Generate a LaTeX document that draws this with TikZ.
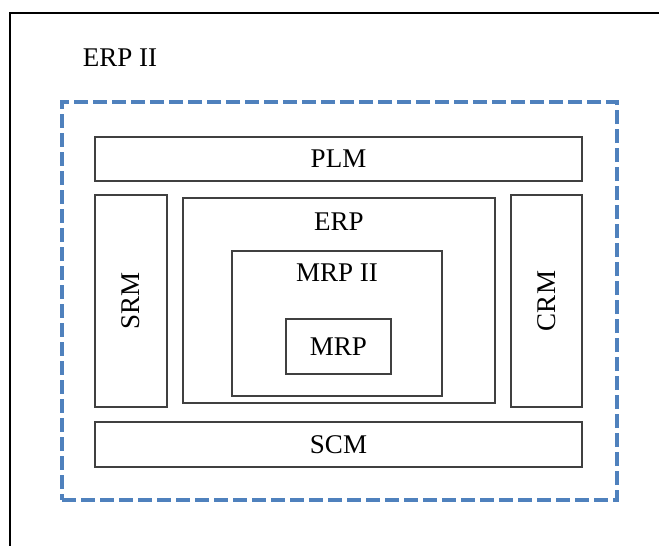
\documentclass[tikz,border=0pt]{standalone}
\usepackage{fontspec}
\setmainfont{Liberation Serif}
\usepackage{tikz}
\usetikzlibrary{positioning}
\definecolor{erpblue}{HTML}{4F81BD}
\definecolor{boxgray}{HTML}{404040}

\begin{document}
\begin{tikzpicture}[
x=1pt, y=-1pt,
every node/.style={font=\fontsize{27}{31}\selectfont},
modbox/.style={rectangle, draw=boxgray, line width=1.3pt, inner sep=0pt},
dashbox/.style={rectangle, draw=erpblue, line width=4.5pt, dash pattern=on 14pt off 5pt, inner sep=0pt},
]
\useasboundingbox (0,0) rectangle (659,546);

%Frame
\draw[line width=2.5pt] (10,546) -- (10,13) -- (659,13);

%Nodes
\node (erptwo) at (120,58) {ERP II};
\node[dashbox, minimum width=555pt, minimum height=398pt] (ext) at (339.5,301) {};
\node[modbox, minimum width=487pt, minimum height=44pt]  (plm) at (338.5,159)   {PLM};
\node[modbox, minimum width=487pt, minimum height=45pt]  (scm) at (338.5,444.5) {SCM};
\node[modbox, minimum width=72pt,  minimum height=212pt] (srm) at (131,301)     {};
\node[modbox, minimum width=71pt,  minimum height=212pt] (crm) at (546.5,301)   {};
\node[modbox, minimum width=312pt, minimum height=205pt] (erp) at (339,300.5)   {};
\node[modbox, minimum width=210pt, minimum height=145pt] (mrptwo) at (337,323.5) {};
\node[modbox, minimum width=105pt, minimum height=55pt]  (mrp) at (338.5,346.5) {MRP};

%Labels
\node[rotate=90] (srmtext) at (srm.center) {SRM};
\node[rotate=90] (crmtext) at (crm.center) {CRM};
\node (erptext) [below=10pt of erp.north, anchor=center, yshift=-14pt] {ERP};
\node (mrptwotext) [below=8pt of mrptwo.north, anchor=center, yshift=-14pt] {MRP II};
\end{tikzpicture}
\end{document}
